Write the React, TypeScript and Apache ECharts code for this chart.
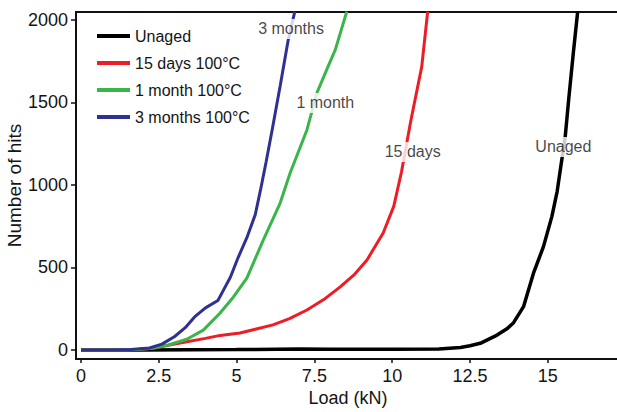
import React, { useEffect, useRef } from "react";
import * as echarts from "echarts";

// Load (kN) vs cumulative number of hits for each ageing condition
const unaged: [number, number][] = [
  [0, 0], [2, 0], [5, 2], [7, 6], [8, 4], [10, 4], [11.5, 6], [12.19, 15], [12.5, 25],
  [12.83, 40], [13.37, 90], [13.7, 130], [13.9, 165], [14.22, 262], [14.54, 465],
  [14.86, 626], [15.13, 808], [15.3, 960], [15.45, 1152], [15.56, 1293], [15.67, 1515],
  [15.83, 1818], [15.96, 2050],
];
const days15: [number, number][] = [
  [0, 0], [1, 0], [1.8, 2], [2.3, 10], [2.8, 28], [3.4, 50], [4, 70], [4.47, 88],
  [5.11, 103], [5.6, 125], [6.17, 152], [6.7, 190], [7.26, 242], [7.8, 305], [8.33, 382],
  [8.8, 460], [9.19, 545], [9.71, 709], [10.05, 870], [10.3, 1080], [10.6, 1390],
  [10.95, 1717], [11.14, 2050],
];
const month1: [number, number][] = [
  [0, 0], [1, 0], [1.8, 2], [2.3, 10], [2.8, 30], [3.4, 65], [3.93, 120], [4.47, 224],
  [4.9, 321], [5.33, 435], [5.86, 667], [6.4, 890], [6.72, 1072], [7.26, 1333],
  [7.58, 1557], [7.9, 1700], [8.17, 1818], [8.54, 2050],
];
const months3: [number, number][] = [
  [0, 0], [1, 0], [1.6, 2], [2.2, 12], [2.6, 35], [3.0, 80], [3.35, 135], [3.65, 200],
  [4.0, 255], [4.4, 300], [4.6, 370], [4.8, 440], [5.05, 560], [5.33, 680], [5.6, 820],
  [5.78, 980], [5.95, 1140], [6.15, 1340], [6.4, 1600], [6.66, 1880], [6.87, 2050],
];

const seriesNames = ["Unaged", "15 days 100°C", "1 month 100°C", "3 months 100°C"];
const seriesColors = ["#000000", "#ee1c25", "#3ab54a", "#2e3192"];

// In-plot curve labels and where they sit (load, hits)
const curveLabels = ["3 months", "1 month", "15 days", "Unaged"];
const curveLabelLoad = [6.75, 7.85, 10.66, 15.5];
const curveLabelHits = [1945, 1497, 1200, 1230];

const xTicks = [0, 2.5, 5, 7.5, 10, 12.5, 15];
const yTicks = [0, 500, 1000, 1500, 2000];

const FONT = "'Liberation Sans', Arial, Helvetica, sans-serif";
const INK = "#141414";

export default function App() {
  const ref = useRef<HTMLDivElement>(null);

  useEffect(() => {
    if (!ref.current) return;
    const chart = echarts.init(ref.current, undefined, { renderer: "svg" });
    const curves = [unaged, days15, month1, months3];

    chart.setOption({
      animation: false,
      backgroundColor: "#ffffff",
      textStyle: { fontFamily: FONT },
      grid: {
        left: 76,
        top: 12,
        right: -3,
        bottom: 53,
        containLabel: false,
        outerBoundsMode: "none",
        show: true,
        borderColor: "#111",
        borderWidth: 2,
      },
      legend: {
        data: seriesNames,
        orient: "vertical",
        left: 92,
        top: 22,
        icon: "rect",
        itemWidth: 33,
        itemHeight: 4,
        itemGap: 9,
        textStyle: { fontFamily: FONT, fontSize: 16, color: INK, lineHeight: 18 },
      },
      xAxis: {
        type: "value",
        min: -0.16,
        max: 17.32,
        name: "Load (kN)",
        nameLocation: "middle",
        nameGap: 30,
        nameMoveOverlap: false,
        nameTextStyle: { fontFamily: FONT, fontSize: 18, color: INK },
        splitLine: { show: false },
        axisLine: { show: true, onZero: false, lineStyle: { color: "#111", width: 2 } },
        axisTick: {
          show: true,
          length: 4,
          customValues: xTicks,
          lineStyle: { color: "#111", width: 1.5 },
        },
        axisLabel: {
          customValues: xTicks,
          margin: 8,
          fontFamily: FONT,
          fontSize: 18,
          color: INK,
          formatter: (v: number) => String(v),
        },
      },
      yAxis: {
        type: "value",
        min: -55,
        max: 2048,
        name: "Number of hits",
        nameLocation: "middle",
        nameGap: 52,
        nameMoveOverlap: false,
        nameTextStyle: { fontFamily: FONT, fontSize: 19, color: INK },
        splitLine: { show: false },
        axisLine: { show: true, onZero: false, lineStyle: { color: "#111", width: 2 } },
        axisTick: {
          show: true,
          length: 5,
          customValues: yTicks,
          lineStyle: { color: "#111", width: 1.5 },
        },
        axisLabel: {
          customValues: yTicks,
          margin: 8,
          fontFamily: FONT,
          fontSize: 18,
          color: INK,
          formatter: (v: number) => String(v),
        },
      },
      series: [
        ...curves.map((data, i) => ({
          name: seriesNames[i],
          type: "line",
          data,
          color: seriesColors[i],
          showSymbol: false,
          symbol: "none",
          lineStyle: { color: seriesColors[i], width: i === 0 ? 3.5 : 3 },
          itemStyle: { color: seriesColors[i] },
          z: 2 + i,
        })),
        {
          name: "curve labels",
          type: "scatter",
          symbolSize: 0,
          z: 10,
          data: curveLabels.map((name, i) => ({
            name,
            value: [curveLabelLoad[i], curveLabelHits[i]],
          })),
          label: {
            show: true,
            position: "inside",
            formatter: "{b}",
            fontFamily: FONT,
            fontSize: 16,
            color: INK,
            backgroundColor: "#ffffff",
            padding: [2, 2],
          },
          silent: true,
        },
      ],
    });

    return () => chart.dispose();
  }, []);

  return (
    <div
      ref={ref}
      style={{ position: "absolute", left: 0, top: 0, width: 617, height: 412 }}
    />
  );
}
